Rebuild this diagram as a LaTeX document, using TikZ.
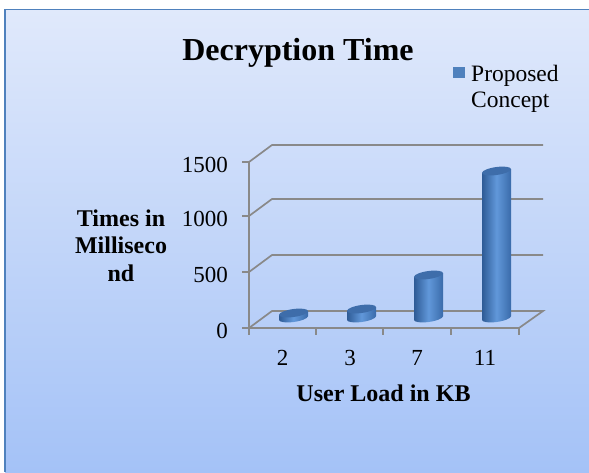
\documentclass[tikz,border=0pt]{standalone}
\usepackage{fontspec}
\setmainfont{Liberation Serif}

\definecolor{bgtop}{HTML}{E0E9FB}
\definecolor{bgbot}{HTML}{A4C2F7}
\definecolor{framecol}{HTML}{4F81BD}
\definecolor{gridgray}{HTML}{898989}
\definecolor{legblue}{HTML}{4F81BD}
\definecolor{cylL}{HTML}{2E5B96}
\definecolor{cylM}{HTML}{6198DA}
\definecolor{cylR}{HTML}{3A6BAA}
\definecolor{cylTop}{HTML}{3E6DAA}

% one cylinder: centre x, height (pixels)
\newcommand\cylbar[2]{%
  \begin{scope}[shift={(#1,318)}, cm={1,0.13,0,1,(0,0)}]
    \shade[left color=cylL, right color=cylR, middle color=cylM]
      (0,0) ellipse [x radius=14.5, y radius=4];
    \shade[left color=cylL, right color=cylR, middle color=cylM]
      (-14.5,0) rectangle (14.5,-#2);
    \fill[cylTop] (0,-#2) ellipse [x radius=14.5, y radius=4];
  \end{scope}}

\begin{document}
\begin{tikzpicture}[x=1pt,y=-1pt,
  grid/.style={draw=gridgray, line width=1.7pt},
  ticklabel/.style={font=\fontsize{23}{26}\selectfont, inner sep=0pt},
  axistitle/.style={font=\bfseries\fontsize{24}{27.5}\selectfont, inner sep=0pt},
  charttitle/.style={font=\bfseries\fontsize{32}{38}\selectfont, inner sep=0pt},
  legendtext/.style={font=\fontsize{23.5}{26}\selectfont, inner sep=0pt}]
\useasboundingbox (0,0) rectangle (589,472);
\fill[white] (0,0) rectangle (589,472);

% chart area
\shade[top color=bgtop, bottom color=bgbot] (5,9.5) rectangle (589,472);
\draw[framecol, line width=1.4pt] (5,472) -- (5,9.5) -- (589,9.5);

% gridlines on the back wall
\foreach \y in {162,216,272}
  \draw[grid] (249,\y) -- (272,{\y-17}) -- (543,{\y-17});

% floor and axes
\draw[grid] (249,328) -- (272,311) -- (543,311) -- (519,328) -- cycle;
\draw[grid] (249,162) -- (249,335);
\foreach \y in {162,216,272,328}
  \draw[grid] (242,\y) -- (249,\y);
\foreach \x in {316,383,451,519}
  \draw[grid] (\x,328) -- (\x,335);

% bars
\cylbar{293.5}{5}
\cylbar{361.5}{9}
\cylbar{428.5}{43}
\cylbar{496.5}{147}

% title and legend
\node[charttitle, anchor=base] (title) at (298,60) {Decryption Time};
\fill[legblue] (453,67) rectangle (465,78);
\node[legendtext, anchor=base west] (leg1) at (471,81) {Proposed};
\node[legendtext, anchor=base west] (leg2) at (471,107) {Concept};

% value axis labels
\node[ticklabel, anchor=base east] (v1500) at (228,172) {1500};
\node[ticklabel, anchor=base east] (v1000) at (228,226) {1000};
\node[ticklabel, anchor=base east] (v500) at (228,282) {500};
\node[ticklabel, anchor=base east] (v0) at (228,338) {0};

% category labels
\node[ticklabel, anchor=base] (c2) at (282.5,365) {2};
\node[ticklabel, anchor=base] (c3) at (350,365) {3};
\node[ticklabel, anchor=base] (c7) at (417,365) {7};
\node[ticklabel, anchor=base] (c11) at (485,365) {11};

% axis titles
\node[axistitle, anchor=base] (xtitle) at (383.5,401) {User Load in KB};
\node[axistitle, anchor=base] (yt1) at (121,226) {Times in};
\node[axistitle, anchor=base] (yt2) at (121,253) {Milliseco};
\node[axistitle, anchor=base] (yt3) at (121,281) {nd};
\end{tikzpicture}
\end{document}
